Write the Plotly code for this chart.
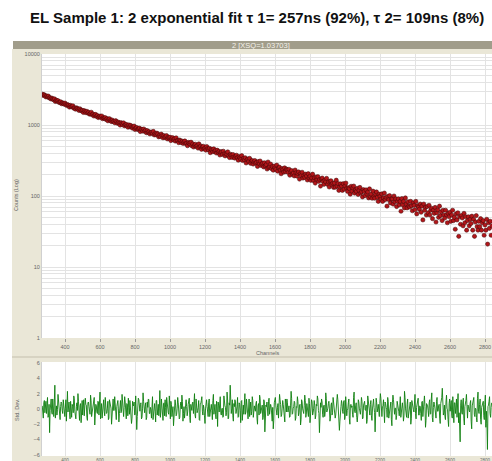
import plotly.graph_objects as go

# Fluorescence decay histogram (counts per channel, sampled every 5 channels)
decay_start = 270
decay_step = 5
counts = [
    2711, 2621, 2684, 2599, 2490, 2564, 2485, 2554, 2409, 2418, 2325, 2392, 2320, 2267, 2330, 2144, 2237, 2171, 2202, 2084,
    2088, 2125, 1995, 2055, 2020, 1959, 2036, 1941, 1881, 1937, 1896, 1789, 1894, 1805, 1828, 1864, 1728, 1743, 1672, 1744,
    1717, 1661, 1601, 1695, 1624, 1580, 1603, 1501, 1595, 1552, 1490, 1560, 1478, 1506, 1422, 1450, 1513, 1394, 1427, 1338,
    1386, 1408, 1322, 1361, 1272, 1316, 1336, 1278, 1340, 1226, 1267, 1240, 1272, 1193, 1228, 1146, 1212, 1225, 1155, 1119,
    1173, 1118, 1127, 1072, 1149, 1107, 1055, 1097, 1059, 998, 1078, 1043, 1009, 1070, 975, 1011, 1018, 970, 929, 1003,
    945, 987, 941, 904, 942, 966, 865, 908, 920, 866, 876, 903, 809, 872, 858, 819, 879, 819, 841, 779,
    834, 784, 805, 749, 783, 796, 762, 812, 725, 756, 728, 768, 746, 681, 718, 688, 744, 705, 659, 708,
    666, 686, 710, 637, 674, 654, 673, 603, 644, 662, 619, 639, 594, 659, 602, 604, 564, 614, 599, 565,
    592, 550, 576, 596, 547, 557, 511, 569, 552, 532, 572, 509, 542, 490, 520, 536, 498, 512, 473, 541,
    489, 506, 454, 489, 502, 459, 470, 443, 498, 465, 447, 470, 408, 457, 443, 420, 461, 424, 438, 403,
    442, 411, 425, 378, 411, 421, 384, 427, 392, 367, 396, 385, 418, 367, 348, 387, 376, 349, 384, 353,
    342, 362, 375, 346, 320, 358, 344, 328, 370, 316, 340, 323, 346, 292, 325, 331, 307, 339, 289, 309,
    316, 282, 303, 316, 289, 299, 261, 305, 284, 311, 269, 281, 290, 257, 294, 265, 277, 240, 301, 251,
    259, 281, 243, 260, 231, 264, 249, 237, 272, 224, 249, 255, 232, 206, 244, 235, 217, 249, 221, 239,
    233, 215, 238, 196, 219, 228, 203, 211, 192, 232, 212, 191, 208, 218, 173, 206, 194, 216, 179, 194,
    183, 203, 191, 168, 206, 179, 190, 166, 179, 203, 165, 181, 152, 185, 170, 187, 161, 171, 138, 174,
    179, 160, 146, 167, 158, 177, 146, 158, 134, 161, 164, 144, 151, 132, 152, 133, 167, 138, 150, 120,
    134, 148, 138, 120, 149, 125, 139, 152, 128, 116, 131, 127, 106, 137, 117, 130, 138, 110, 122, 116,
    128, 105, 120, 132, 110, 115, 97, 123, 116, 101, 122, 107, 114, 94, 126, 98, 106, 93, 117, 98,
    93, 106, 114, 96, 84, 106, 99, 90, 107, 84, 94, 110, 89, 96, 72, 99, 89, 101, 80, 91,
    91, 77, 100, 83, 91, 71, 84, 91, 75, 84, 61, 92, 75, 84, 68, 94, 77, 68, 83, 72,
    70, 84, 73, 62, 80, 74, 64, 84, 56, 73, 70, 65, 77, 59, 72, 46, 77, 63, 70, 54,
    71, 58, 74, 54, 63, 67, 48, 63, 57, 69, 43, 58, 64, 50, 72, 53, 60, 45, 63, 54,
    49, 63, 54, 42, 57, 51, 59, 44, 54, 63, 45, 50, 34, 56, 46, 58, 27, 51, 40, 53,
    49, 38, 57, 42, 51, 33, 45, 51, 38, 47, 41, 52, 33, 47, 27, 43, 53, 37, 33, 44,
    37, 48, 33, 42, 45, 28, 39, 33, 47, 21, 42, 35, 44, 28, 38,
]

# Weighted residuals of the fit (standard deviations, every 3 channels)
resid_start = 270
resid_step = 3
residuals = [
    0.4, -0.3, -1.2, 0.8, 1.1, -0.5, 0.3, 1.0, -0.6, 0.2, 1.5, -1.1, -0.9, 0.6, -3.1, -0.2, 0.7, 1.3, -0.4, -0.7,
    1.3, 0.1, -1.0, 0.9, 3.1, -1.2, 0.2, 0.4, -0.8, -0.1, 1.9, 1.1, 0.5, -0.8, -1.4, 0.3, 0.9, 0.7, -0.2, -0.6,
    1.2, 0.5, -0.7, -1.0, 0.1, 1.2, -1.6, 0.0, 2.3, -0.4, 0.6, 0.9, -0.5, -1.3, 1.0, 0.2, -1.1, 0.6, 0.3, -0.5,
    1.7, 1.4, -0.3, -0.9, -1.3, 0.3, 0.8, -0.2, 2.0, 1.0, -0.6, -1.5, 0.4, 0.7, -1.8, 0.1, 1.1, -0.8, 0.0, 1.2,
    -0.9, -0.1, 1.4, 0.6, 0.5, -1.1, -1.5, 0.8, 0.9, 0.3, -0.1, -0.7, 1.8, 1.1, -1.0, -0.4, 0.2, 0.0, 1.3, 1.5,
    -2.1, -1.0, 0.6, 0.4, -0.4, -0.6, 1.0, 0.9, -0.8, 0.2, 2.2, -1.3, 0.3, 0.7, -1.2, -0.3, 0.7, 1.2, -0.3, -0.9,
    1.5, 0.3, -0.6, -0.5, 0.1, 1.0, -1.4, -1.2, 1.2, 0.6, 0.4, 0.1, -2.0, -0.8, 0.8, 1.3, -0.2, -0.2, 1.6, 0.5,
    -0.9, -1.4, 0.3, 0.8, 1.1, 0.0, -1.7, -0.6, 0.5, 1.1, -0.5, -0.3, 1.9, 0.4, -1.0, -1.0, 0.2, 1.6, 0.9, -0.1,
    -1.3, 0.7, 0.6, -0.9, 1.4, 0.2, -0.7, 1.1, 0.0, -0.4, -1.9, -1.2, 1.0, 0.5, 0.4, 0.9, -0.8, -0.7, 1.7, 0.3,
    -2.7, -1.0, 0.5, 1.4, 1.2, -0.2, -0.3, 0.6, 0.8, -1.3, -1.1, 0.0, 2.1, 1.0, -0.5, -0.5, 0.3, 0.8, -1.4, -1.1,
    0.9, 0.2, 1.3, 1.2, -0.6, -0.6, 0.2, -0.1, -1.2, 0.9, 1.6, -1.4, -0.2, 0.4, 0.7, -0.3, -1.7, 1.1, 1.1, -0.8,
    0.4, 0.6, -0.9, 0.0, 2.4, -1.1, -0.4, 1.3, 0.1, -0.4, -1.5, 0.7, 0.8, -0.9, 1.2, 0.2, -1.0, 1.5, 0.3, -0.2,
    -0.5, -0.7, 1.7, 0.5, -1.3, 1.0, 0.6, -1.0, 0.0, 0.3, -2.2, -0.5, 1.0, 1.2, 0.5, -0.9, -0.7, 0.1, 1.5, 0.8,
    -0.1, -1.3, -1.1, 0.4, 0.9, 0.0, 1.8, 1.0, -1.6, -0.6, 0.3, -1.2, -0.4, 0.9, 1.2, 0.3, -0.9, -0.4, 0.6, 1.4,
    1.4, -1.1, -1.8, 0.6, 0.2, -0.2, 0.8, 0.9, -0.6, 0.4, 2.0, -0.8, -1.2, 1.3, 0.4, -0.5, -0.2, 0.2, 1.1, -1.4,
    -1.5, 0.7, 0.7, 1.1, 1.6, -0.3, -0.8, 0.5, 0.1, -0.9, -1.9, 0.0, 0.9, 1.2, 0.3, -0.6, -1.0, 0.8, 1.3, -1.0,
    -0.3, 0.4, 0.6, -0.2, -1.4, 1.1, 1.9, -0.7, 0.2, 0.6, -0.7, -1.3, 1.0, 0.3, -2.3, 0.9, 0.5, -0.4, 1.4, 1.6,
    -0.5, -0.8, 0.0, 0.1, -1.1, -1.0, 1.7, 0.7, 0.4, 0.2, -0.9, -0.5, 2.2, 1.3, -1.3, -1.2, 0.8, 0.5, 3.1, 1.8,
    -0.6, 0.0, 1.2, -0.9, -1.6, 0.7, 0.3, 1.2, 0.9, -0.6, -0.2, 0.3, 1.5, -1.1, -1.0, 0.8, 0.6, -0.2, -1.8, 1.0,
    1.1, -1.5, 0.1, 0.5, -0.7, 0.2, 2.0, -0.7, -0.4, 1.3, 0.8, -0.4, -1.3, 0.6, 1.3, -1.0, 0.2, 0.9, -0.8, -0.3,
    1.6, 1.1, -1.1, -0.6, 0.4, 0.0, -0.3, 0.7, 1.0, -1.2, -2.0, 0.4, 0.7, -0.8, 1.8, 1.4, -0.6, -0.1, 0.0, 0.5,
    -1.4, -1.1, 1.2, 0.9, -3.0, -1.9, 0.5, 0.3, 0.9, -0.5, -0.9, 1.0, 1.4, -0.7, -0.2, 0.6, 0.3, -1.3, -1.6, 0.2,
    -2.6, -1.5, 0.8, 1.0, 1.5, 0.4, -0.5, -0.8, 0.2, 0.7, -1.2, -0.3, 1.9, 1.2, 0.6, -1.0, -0.8, 0.1, 1.1, 0.6,
    -0.1, -0.9, -1.7, 1.3, 0.9, -0.4, 1.3, 0.8, -0.4, 0.0, 0.4, -1.1, -1.0, 0.5, 2.3, 1.4, -0.7, -0.6, 0.1, 0.3,
    1.0, 0.8, -1.5, -1.2, 0.3, 0.2, 1.6, 1.0, -0.9, -0.5, 0.5, 0.6, -2.1, -1.4, 1.2, 0.9, 0.0, -0.2, -0.6, 0.4,
    1.8, 1.1, -1.1, -0.7, 0.7, 0.3, -0.3, -1.0, 1.4, 0.7, -1.8, -0.3, 0.2, 1.2, 0.9, -0.8, -0.5, 0.1, 1.1, 0.5,
    -1.3, -0.9, 0.6, 0.4, 1.7, 1.3, -0.2, -0.6, -3.1, -1.8, 0.8, 0.2, 1.3, 0.9, -0.7, -1.1, 0.4, 0.5, -1.0, -0.4,
    2.1, 1.4, -0.4, -0.2, 0.1, 0.7, 1.0, 0.0, -1.6, -1.2, 0.5, 0.8, -0.8, -0.5, 1.5, 1.0, 0.3, -0.1, -1.2, -0.8,
    0.7, 0.6, 1.9, 1.2, -0.6, -0.9, -2.8, -1.6, 0.2, 0.3, 1.1, 0.7, -0.3, -0.6, 0.9, 1.1, -1.4, -1.0, 1.6, 0.4,
    -0.9, -0.2, 0.0, 0.8, 1.3, -1.3, -2.0, 0.5, 0.6, 0.2, 0.4, -0.7, -1.1, 1.5, 2.2, -0.3, -0.5, 0.4, 0.8, -1.1,
    -1.7, -0.8, 1.2, 0.9, 0.1, -0.4, -0.7, 0.2, 1.5, 1.0, -1.3, -1.2, 0.5, 0.7, 1.0, -0.1, -0.2, 0.5, -1.9, -1.4,
    1.7, 1.2, 0.3, -0.3, -0.8, 0.6, 1.1, -0.9, -1.5, 0.0, 0.9, 1.3, 0.2, -0.5, -3.0, -1.7, 1.4, 0.8, -0.4, 0.1,
    0.6, -0.2, -1.0, 0.7, 2.0, 1.4, -0.6, -1.0, 0.3, 0.4, 1.2, -0.6, -1.8, 0.9, 0.7, 0.2, -0.1, -1.1, 1.5, 1.0,
    -1.2, -0.5, 0.4, 0.3, 0.9, -1.4, -2.2, 0.8, 1.8, 1.2, -0.3, -0.7, 0.1, 0.1, -1.4, -0.9, 1.0, 0.6, 0.5, -0.3,
    -0.9, 0.5, 1.6, -1.1, -0.5, 0.8, 0.8, 0.0, -1.6, -0.9, 2.3, 1.5, 0.0, -0.4, -1.1, 0.6, 1.3, -1.2, -0.7, 0.3,
    0.5, 0.9, -2.0, -1.3, 1.1, 0.4, 0.2, -0.1, -0.4, 1.1, 1.9, -0.6, -1.3, 0.2, 0.6, 1.0, 1.4, -0.8, -0.8, 0.4,
    0.3, -0.6, -1.5, 0.9, 1.0, -1.0, -0.2, 1.2, 1.7, 0.3, -2.4, -1.5, 0.7, 0.5, 0.4, -0.2, -1.0, 0.8, 1.2, -0.7,
    -0.6, 1.3, 2.1, -1.1, -1.7, 0.2, 0.9, 0.6, 0.1, -0.9, -1.2, 1.0, 1.5, -0.3, -0.3, 0.4, 0.6, -1.2, -1.9, 0.7,
    1.1, 1.5, 2.7, 0.2, -0.8, -0.5, 0.5, -1.0, -1.4, 0.9, 1.8, 0.1, -0.1, -1.4, -2.3, 0.7, 1.3, -0.3, 0.2, 1.1,
    -0.9, -1.2, 1.6, 0.4, -1.8, 0.8, 0.8, -0.6, 0.4, 1.3, -1.1, -0.2, 2.0, -1.8, -0.5, -2.1, -4.3, 0.5, 1.2, -0.4,
    -0.7, 0.9, 1.4, -1.3, -2.1, 0.3, 0.6, 1.1, 1.9, -0.8, -1.2, 0.5, 0.3, -0.2, -0.4, 0.7, 1.1, -1.6, -2.6, 0.4,
    0.9, 1.2, 1.5, -0.7, -1.0, 0.1, 0.0, -1.1, -1.7, 1.4, 2.2, -0.3, -0.6, 0.6, 1.3, -1.4, -2.0, 0.2, 0.7, 0.8,
    1.0, -0.9, -1.4, 0.6, 1.8, -2.4, -0.3, -1.9, -5.3, 0.3, 0.5, 1.0, 1.6, -0.6, -1.1, 0.2, 0.8,
]

channel_ticks = [400, 600, 800, 1000, 1200, 1400, 1600, 1800, 2000, 2200, 2400, 2600, 2800]
resid_ticks = [-6, -4, -2, 0, 2, 4, 6]

title_text = "EL Sample 1: 2 exponential fit \u03c4 1= 257ns (92%), \u03c4 2= 109ns (8%)"
panel_text = "2 [XSQ=1.03703]"

decay_channels = [decay_start + decay_step * i for i in range(len(counts))]
resid_channels = [resid_start + resid_step * i for i in range(len(residuals))]

W, H = 492, 461


def py(p):
    """pixel row -> paper y"""
    return (H - p) / H


def px(p):
    return p / W


X_RANGE = [268.6, 2840]
BEIGE = "#EAE7D7"
GRID = "#E3E3E3"
TICKFONT = dict(family="Liberation Sans, Arial", size=5.5, color="#666666")

# Log-axis grid at every 1..9 step, labels on the decades only
log_vals, log_text = [], []
for dec in [1, 10, 100, 1000]:
    for m in range(1, 10):
        log_vals.append(dec * m)
        log_text.append(str(dec * m) if m == 1 else "")
log_vals.append(10000)
log_text.append("10000")

fig = go.Figure()

fig.add_trace(go.Scatter(
    x=decay_channels, y=counts, mode="markers",
    marker=dict(size=4.2, color="#B3161A", line=dict(color="#3C0606", width=0.5)),
    xaxis="x", yaxis="y", hoverinfo="skip",
))

fig.add_trace(go.Scatter(
    x=resid_channels, y=residuals, mode="lines",
    line=dict(color="#0F7F0F", width=0.9),
    xaxis="x2", yaxis="y2", hoverinfo="skip",
))

shapes = [
    # beige window background
    dict(type="rect", xref="paper", yref="paper", x0=px(12), x1=1.0, y0=0, y1=py(49),
         fillcolor=BEIGE, line=dict(width=0), layer="below"),
    # caption bar
    dict(type="rect", xref="paper", yref="paper", x0=px(13), x1=1.0, y0=py(49), y1=py(41),
         fillcolor="#A19D8B", line=dict(width=0), layer="below"),
    # main plot white area
    dict(type="rect", xref="paper", yref="paper", x0=px(42), x1=1.0, y0=py(338), y1=py(54),
         fillcolor="white", line=dict(width=0), layer="below"),
    # residual plot white area
    dict(type="rect", xref="paper", yref="paper", x0=px(42), x1=1.0, y0=py(456), y1=py(362),
         fillcolor="white", line=dict(width=0), layer="below"),
    # splitter between panels
    dict(type="line", xref="paper", yref="paper", x0=px(12), x1=1.0, y0=py(357), y1=py(357),
         line=dict(color="#C4C0AE", width=1.2)),
]

annotations = [
    dict(text="<b>" + title_text + "</b>", xref="paper", yref="paper", x=px(257), y=py(17),
         showarrow=False, xanchor="center", yanchor="middle",
         font=dict(family="Liberation Sans, Arial", size=15, color="#111111")),
    dict(text=panel_text, xref="paper", yref="paper", x=px(261), y=py(45),
         showarrow=False, xanchor="center", yanchor="middle",
         font=dict(family="Liberation Sans, Arial", size=7.5, color="#F4F2EA")),
    dict(text="Channels", xref="paper", yref="paper", x=px(267), y=py(353),
         showarrow=False, xanchor="center", yanchor="middle", font=TICKFONT),
    dict(text="Counts (Log)", xref="paper", yref="paper", x=px(16), y=py(195),
         showarrow=False, textangle=-90, xanchor="center", yanchor="middle", font=TICKFONT),
    dict(text="Std. Dev.", xref="paper", yref="paper", x=px(17), y=py(410),
         showarrow=False, textangle=-90, xanchor="center", yanchor="middle", font=TICKFONT),
]

fig.update_layout(
    width=W, height=H,
    margin=dict(l=0, r=0, t=0, b=0, autoexpand=False),
    paper_bgcolor="white",
    plot_bgcolor="rgba(0,0,0,0)",
    showlegend=False,
    shapes=shapes,
    annotations=annotations,
    xaxis=dict(
        domain=[px(42), 1.0], range=X_RANGE, anchor="y", automargin=False,
        tickvals=channel_ticks, ticks="outside", ticklen=3, tickcolor="#999999", tickwidth=0.8,
        tickfont=TICKFONT, showgrid=True, gridcolor=GRID, gridwidth=1,
        zeroline=False, showline=False,
    ),
    yaxis=dict(
        domain=[py(338), py(54)], type="log", range=[0, 4], anchor="x", automargin=False,
        tickvals=log_vals, ticktext=log_text, ticks="", tickfont=TICKFONT,
        showgrid=True, gridcolor=GRID, gridwidth=1, zeroline=False,
        showline=True, linecolor="#D0D0D0", linewidth=1,
    ),
    xaxis2=dict(
        domain=[px(42), 1.0], range=X_RANGE, anchor="y2", automargin=False,
        tickvals=channel_ticks, ticks="", tickfont=dict(family="Liberation Sans, Arial", size=4.5, color="#666666"),
        showgrid=True, gridcolor=GRID, gridwidth=1,
        zeroline=False, showline=False,
    ),
    yaxis2=dict(
        domain=[py(456), py(362)], range=[-6.15, 6.13], anchor="x2", automargin=False,
        tickvals=resid_ticks, ticks="", tickfont=TICKFONT,
        showgrid=False, zeroline=False,
        showline=True, linecolor="#D0D0D0", linewidth=1,
    ),
)

fig.write_html("out.html")
